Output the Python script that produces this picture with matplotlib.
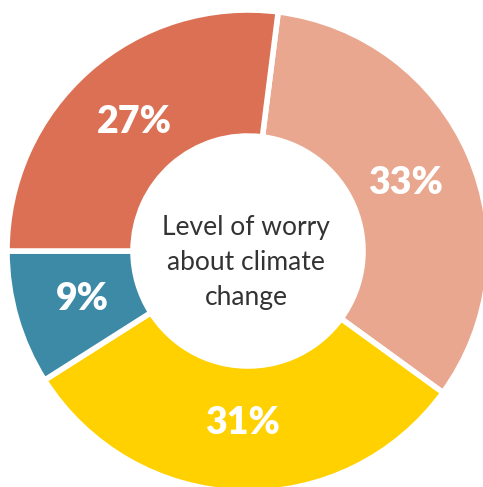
import numpy as np
import matplotlib
matplotlib.use('Agg')
import matplotlib.pyplot as plt

plt.rcParams['font.family'] = ['Lato', 'DejaVu Sans']

# worry levels, clockwise from the top
shares = [33, 31, 9, 27]
labels = ['33%', '31%', '9%', '27%']
colors = ['#E9A78F', '#FFD100', '#3D8AA6', '#DC7055']
center_text = 'Level of worry\nabout climate\nchange'

W, H = 483, 487
fig = plt.figure(figsize=(W / 100, H / 100), dpi=100)
ax = fig.add_axes([0, 0, 1, 1])

cx, cy = 248, H - 251
R_out, R_in = 241, 115
wedges, _ = ax.pie(shares, colors=colors, startangle=82.8, counterclock=False,
                   center=(cx, cy), radius=R_out, frame=True,
                   wedgeprops=dict(width=R_out - R_in, edgecolor='white', linewidth=4))
ax.set_xlim(0, W); ax.set_ylim(0, H)
ax.set_aspect('equal'); ax.axis('off')

r_lab = 172
for w, lab in zip(wedges, labels):
    mid = np.deg2rad((w.theta1 + w.theta2) / 2)
    ax.text(cx + r_lab * np.cos(mid), cy + r_lab * np.sin(mid), lab,
            ha='center', va='center', color='white', fontsize=27, fontweight='heavy')

ax.text(cx - 2, cy - 11, center_text, ha='center', va='center', fontsize=19,
        color='#333333', linespacing=1.5)

fig.savefig('out.png', dpi=100)
